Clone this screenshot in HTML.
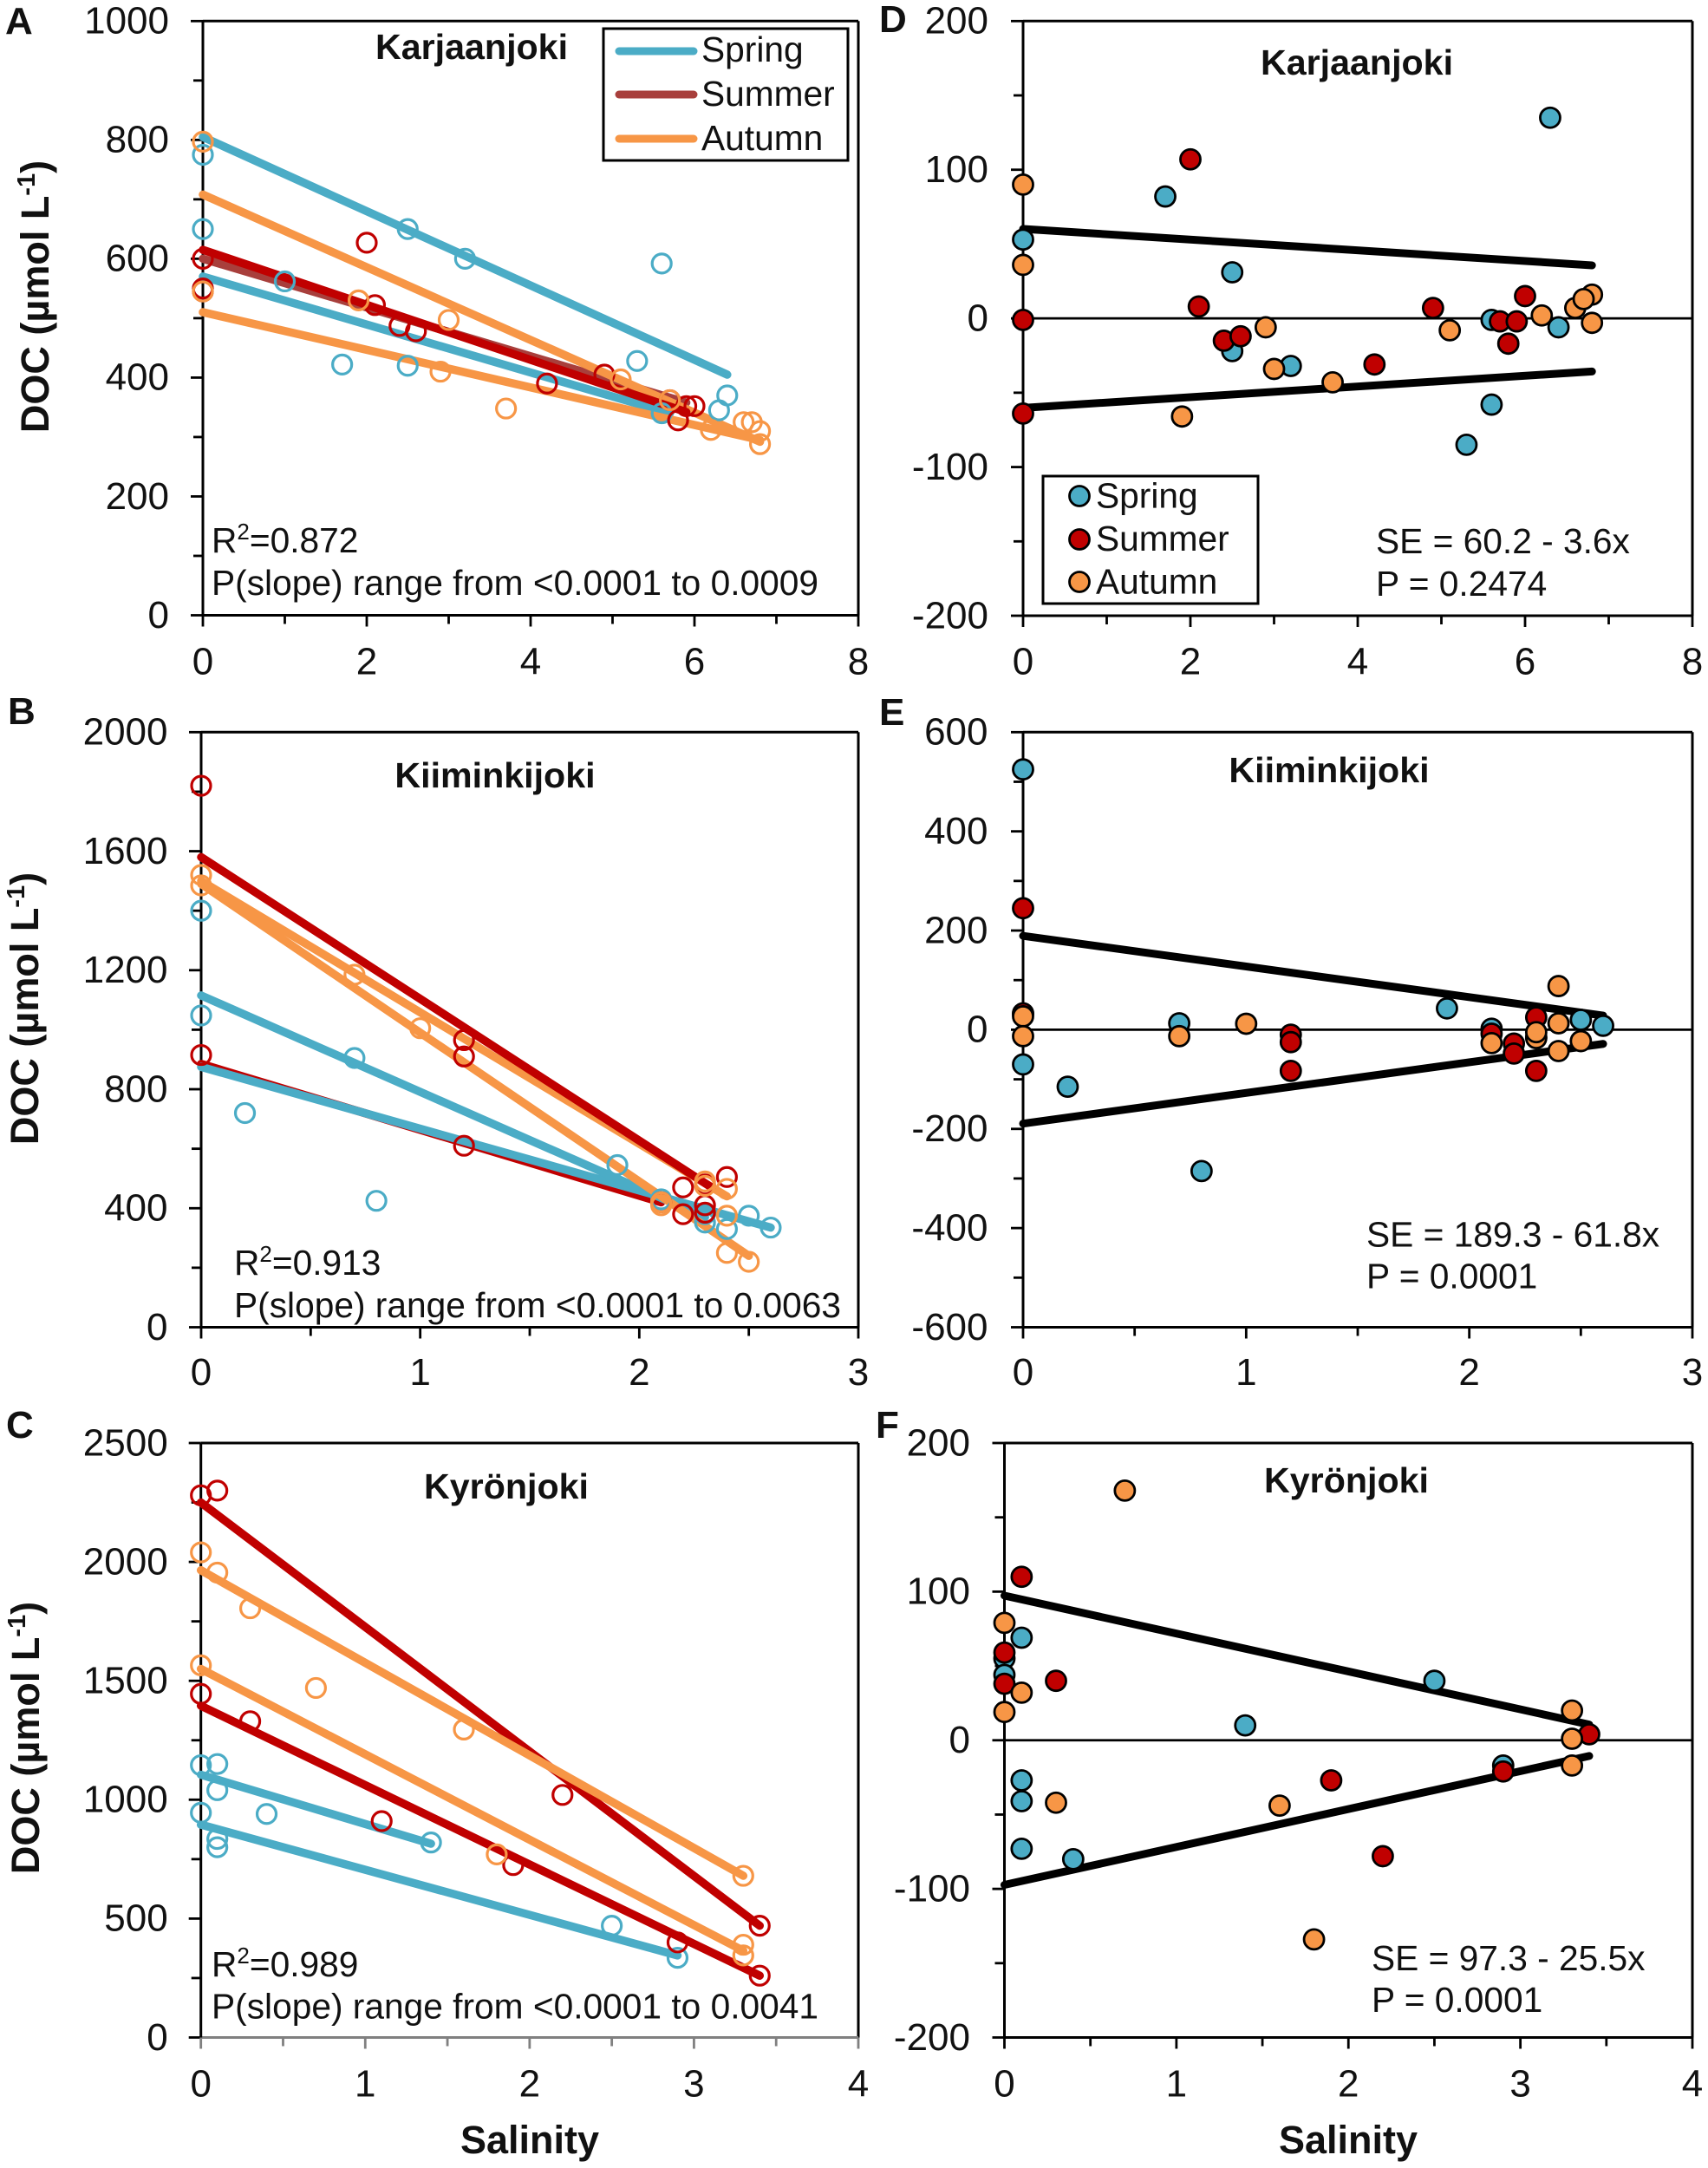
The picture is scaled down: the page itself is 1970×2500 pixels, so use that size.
<!DOCTYPE html>
<html lang="en">
<head>
<meta charset="utf-8">
<title>DOC versus salinity in three Finnish rivers</title>
<style>
html,body{margin:0;padding:0;background:#fff;}
svg{display:block;}
text{font-family:"Liberation Sans",sans-serif;fill:#111;}
.tick{font-size:44px;}
.note{font-size:40.7px;}
.title{font-size:41.2px;font-weight:bold;}
.axis-title{font-size:45px;font-weight:bold;}
.letter{font-size:44px;font-weight:bold;}
</style>
</head>
<body>
<svg id="figure" xmlns="http://www.w3.org/2000/svg" width="1970" height="2500" viewBox="0 0 1970 2500">
  <rect x="0" y="0" width="1970" height="2500" fill="#fff"/>
  <g id="plots"></g>

  <text class="letter" x="6" y="39">A</text>
  <text class="letter" x="9" y="835">B</text>
  <text class="letter" x="7" y="1658">C</text>
  <text class="letter" x="1014" y="37">D</text>
  <text class="letter" x="1014" y="836">E</text>
  <text class="letter" x="1010" y="1658">F</text>

  <text class="title" x="544" y="68" text-anchor="middle">Karjaanjoki</text>
  <text class="title" x="1565" y="86" text-anchor="middle">Karjaanjoki</text>
  <text class="title" x="571" y="908" text-anchor="middle">Kiiminkijoki</text>
  <text class="title" x="1533" y="902" text-anchor="middle">Kiiminkijoki</text>
  <text class="title" x="584" y="1728" text-anchor="middle">Kyrönjoki</text>
  <text class="title" x="1553" y="1721" text-anchor="middle">Kyrönjoki</text>

  <text class="axis-title" transform="translate(56 342) rotate(-90)" text-anchor="middle">DOC (µmol L<tspan dy="-16" font-size="29">-1</tspan><tspan dy="16">)</tspan></text>
  <text class="axis-title" transform="translate(44 1163) rotate(-90)" text-anchor="middle">DOC (µmol L<tspan dy="-16" font-size="29">-1</tspan><tspan dy="16">)</tspan></text>
  <text class="axis-title" transform="translate(45 2004) rotate(-90)" text-anchor="middle">DOC (µmol L<tspan dy="-16" font-size="29">-1</tspan><tspan dy="16">)</tspan></text>
  <text class="axis-title" x="611" y="2483" text-anchor="middle">Salinity</text>
  <text class="axis-title" x="1555" y="2483" text-anchor="middle">Salinity</text>

  <text class="note" x="244" y="637">R<tspan dy="-15" font-size="26">2</tspan><tspan dy="15">=0.872</tspan></text>
  <text class="note" x="244" y="686">P(slope) range from &lt;0.0001 to 0.0009</text>
  <text class="note" x="270" y="1470">R<tspan dy="-15" font-size="26">2</tspan><tspan dy="15">=0.913</tspan></text>
  <text class="note" x="270" y="1519">P(slope) range from &lt;0.0001 to 0.0063</text>
  <text class="note" x="244" y="2279">R<tspan dy="-15" font-size="26">2</tspan><tspan dy="15">=0.989</tspan></text>
  <text class="note" x="244" y="2327.5">P(slope) range from &lt;0.0001 to 0.0041</text>
  <text class="note" x="1587" y="638">SE = 60.2 - 3.6x</text>
  <text class="note" x="1587" y="687">P = 0.2474</text>
  <text class="note" x="1576" y="1437.5">SE = 189.3 - 61.8x</text>
  <text class="note" x="1576" y="1485.5">P = 0.0001</text>
  <text class="note" x="1582" y="2272">SE = 97.3 - 25.5x</text>
  <text class="note" x="1582" y="2320">P = 0.0001</text>

  <g>
    <rect x="696" y="33" width="282" height="152" fill="#fff" stroke="#000" stroke-width="3"/>
    <line x1="714" y1="59" x2="800" y2="59" stroke="#4bacc6" stroke-width="9" stroke-linecap="round"/>
    <line x1="714" y1="109" x2="800" y2="109" stroke="#a83f3c" stroke-width="9" stroke-linecap="round"/>
    <line x1="714" y1="160" x2="800" y2="160" stroke="#f79646" stroke-width="9" stroke-linecap="round"/>
    <text class="note" x="809" y="71">Spring</text>
    <text class="note" x="809" y="122">Summer</text>
    <text class="note" x="809" y="173">Autumn</text>
  </g>
  <g>
    <rect x="1203" y="549" width="248" height="147" fill="#fff" stroke="#000" stroke-width="3"/>
    <circle cx="1245" cy="572" r="11.5" fill="#4bacc6" stroke="#000" stroke-width="2.8"/>
    <circle cx="1245" cy="622" r="11.5" fill="#c00000" stroke="#000" stroke-width="2.8"/>
    <circle cx="1245" cy="671" r="11.5" fill="#f79646" stroke="#000" stroke-width="2.8"/>
    <text class="note" x="1264" y="585.5">Spring</text>
    <text class="note" x="1264" y="635">Summer</text>
    <text class="note" x="1264" y="684.5">Autumn</text>
  </g>
</svg>

<script>
// ---------- Panel A: Karjaanjoki DOC ----------
const aXTicks = [0,1,2,3,4,5,6,7,8];
const aXLabels = [0,2,4,6,8];
const aYTicks = [0,100,200,300,400,500,600,700,800,900,1000];
const aYLabels = [0,200,400,600,800,1000];
const aSpringSalinity = [0,0,0,1,1.7,2.5,2.5,3.2,5.3,5.6,5.6,6.3,6.4];
const aSpringDoc = [775,650,550,562,422,650,420,600,428,592,340,345,370];
const aSummerSalinity = [0,0,0,2,2.1,2.4,2.6,4.2,4.9,5.7,5.8,5.9,6];
const aSummerDoc = [600,550,545,627,522,487,478,390,405,362,328,352,352];
const aAutumnSalinity = [0,0,1.9,2.9,3,3.7,5.1,6.2,6.6,6.7,6.8,6.8,5.7];
const aAutumnDoc = [797,545,530,410,497,348,397,312,325,325,310,288,362];
const aFitSeason = ['spring','spring','brown','autumn','autumn','summer'];
const aFitStartSalinity = [0,0,0,0,0,0];
const aFitStartDoc = [805,570,600,708,510,615];
const aFitEndSalinity = [6.4,5.7,5.9,6.8,6.8,5.9];
const aFitEndDoc = [405,340,358,292,295,342];

// ---------- Panel B: Kiiminkijoki DOC ----------
const bXTicks = [0,0.5,1,1.5,2,2.5,3];
const bXLabels = [0,1,2,3];
const bYTicks = [0,200,400,600,800,1000,1200,1400,1600,1800,2000];
const bYLabels = [0,400,800,1200,1600,2000];
const bSpringSalinity = [0,0,0.2,0.7,0.8,1.9,2.1,2.3,2.3,2.4,2.5,2.6];
const bSpringDoc = [1400,1048,720,905,425,545,430,352,380,330,375,335];
const bSummerSalinity = [0,0,1.2,1.2,1.2,2.1,2.2,2.2,2.3,2.3,2.3,2.4];
const bSummerDoc = [1820,915,965,910,610,420,470,380,480,410,385,505];
const bAutumnSalinity = [0,0,0.7,1,2.1,2.1,2.3,2.3,2.4,2.4,2.4,2.5];
const bAutumnDoc = [1520,1485,1185,1005,420,410,490,475,465,375,250,220];
const bFitSeason = ['summer','spring','spring','autumn','autumn','summer'];
const bFitStartSalinity = [0,0,0,0,0,0];
const bFitStartDoc = [885,875,1115,1500,1490,1580];
const bFitEndSalinity = [2.1,2.6,2.3,2.4,2.5,2.33];
const bFitEndDoc = [420,335,370,440,240,470];

// ---------- Panel C: Kyronjoki DOC ----------
const cXTicks = [0,0.5,1,1.5,2,2.5,3,3.5,4];
const cXLabels = [0,1,2,3,4];
const cYTicks = [0,250,500,750,1000,1250,1500,1750,2000,2250,2500];
const cYLabels = [0,500,1000,1500,2000,2500];
const cSpringSalinity = [0,0,0.1,0.1,0.1,0.1,0.4,1.4,2.5,2.9];
const cSpringDoc = [1145,945,1150,1040,835,800,940,820,470,335];
const cSummerSalinity = [0,0,0.1,0.3,1.1,1.9,2.2,2.9,3.4,3.4];
const cSummerDoc = [2280,1445,2300,1330,910,725,1020,400,470,260];
const cAutumnSalinity = [0,0,0.1,0.3,0.7,1.6,1.8,3.3,3.3,3.3];
const cAutumnDoc = [2040,1565,1955,1805,1470,1295,770,680,390,345];
const cFitSeason = ['spring','spring','summer','autumn','autumn','summer'];
const cFitStartSalinity = [0,0,0,0,0,0];
const cFitStartDoc = [1105,895,2250,1965,1550,1395];
const cFitEndSalinity = [1.4,2.9,3.4,3.3,3.3,3.4];
const cFitEndDoc = [815,345,470,680,365,260];

// ---------- Panel D: Karjaanjoki residuals ----------
const dXTicks = [0,1,2,3,4,5,6,7,8];
const dXLabels = [0,2,4,6,8];
const dYTicks = [-200,-150,-100,-50,0,50,100,150,200];
const dYLabels = [-200,-100,0,100,200];
const dSpringSalinity = [0,1.7,2.5,2.5,3.2,5.3,5.6,5.6,6.3,6.4];
const dSpringResidual = [53,82,31,-22,-32,-85,-58,-1,135,-6];
const dSummerSalinity = [0,0,2,2.1,2.4,2.6,4.2,4.9,5.7,5.8,5.9,6];
const dSummerResidual = [-1,-64,107,8,-15,-12,-31,7,-2,-17,-2,15];
const dAutumnSalinity = [0,0,1.9,2.9,3,3.7,5.1,6.2,6.6,6.8,6.7,6.8];
const dAutumnResidual = [90,36,-66,-6,-34,-43,-8,2,7,16,13,-3];
const dBandSalinity = [0,6.8];
const dBandUpper = [60.2,35.7];
const dBandLower = [-60.2,-35.7];

// ---------- Panel E: Kiiminkijoki residuals ----------
const eXTicks = [0,0.5,1,1.5,2,2.5,3];
const eXLabels = [0,1,2,3];
const eYTicks = [-600,-500,-400,-300,-200,-100,0,100,200,300,400,500,600];
const eYLabels = [-600,-400,-200,0,200,400,600];
const eSpringSalinity = [0,0,0,0.2,0.7,0.8,1.9,2.1,2.3,2.5,2.6];
const eSpringResidual = [525,32,-70,-115,13,-285,43,2,-15,20,8];
const eSummerSalinity = [0,0,1.2,1.2,1.2,2.1,2.2,2.2,2.3,2.3];
const eSummerResidual = [245,33,-10,-25,-83,-8,-28,-48,25,-83];
const eAutumnSalinity = [0,0,0.7,1,2.1,2.3,2.3,2.4,2.4,2.4,2.5];
const eAutumnResidual = [27,-13,-13,12,-27,-17,-5,88,13,-43,-23];
const eBandSalinity = [0,2.6];
const eBandUpper = [189.3,28.6];
const eBandLower = [-189.3,-28.6];

// ---------- Panel F: Kyronjoki residuals ----------
const fXTicks = [0,0.5,1,1.5,2,2.5,3,3.5,4];
const fXLabels = [0,1,2,3,4];
const fYTicks = [-200,-150,-100,-50,0,50,100,150,200];
const fYLabels = [-200,-100,0,100,200];
const fSpringSalinity = [0,0,0.1,0.1,0.1,0.1,0.4,1.4,2.5,2.9];
const fSpringResidual = [55,44,69,-27,-41,-73,-80,10,40,-17];
const fSummerSalinity = [0,0,0.1,0.3,1.9,2.2,2.9,3.4];
const fSummerResidual = [59,38,110,40,-27,-78,-21,4];
const fAutumnSalinity = [0,0,0.1,0.3,0.7,1.6,1.8,3.3,3.3,3.3];
const fAutumnResidual = [79,19,32,-42,168,-44,-134,20,1,-17];
const fBandSalinity = [0,3.4];
const fBandUpper = [97.3,10.6];
const fBandLower = [-97.3,-10.6];

const SVG_NS = 'http://www.w3.org/2000/svg';
const plots = document.getElementById('plots');
const seasonColor = {spring:'#4bacc6', summer:'#c00000', autumn:'#f79646', brown:'#a83f3c'};

function makeLine(parent, name, x1, y1, x2, y2, color, width, cap) {
  const el = document.createElementNS(SVG_NS, 'line');
  
  
  el.setAttribute('x1', x1);
  el.setAttribute('y1', y1);
  el.setAttribute('x2', x2);
  el.setAttribute('y2', y2);
  el.setAttribute('stroke', color);
  el.setAttribute('stroke-width', width);
  if (cap) el.setAttribute('stroke-linecap', cap);
  parent.appendChild(el);
  return el;
}

function makeLabel(parent, name, x, y, anchor, str) {
  const el = document.createElementNS(SVG_NS, 'text');
  
  
  el.setAttribute('class', 'tick');
  el.setAttribute('x', x);
  el.setAttribute('y', y);
  el.setAttribute('text-anchor', anchor);
  el.textContent = str;
  parent.appendChild(el);
  return el;
}

function makeGroup(parent, name) {
  const el = document.createElementNS(SVG_NS, 'g');
  
  
  parent.appendChild(el);
  return el;
}

function drawAxes(p) {
  const g = makeGroup(plots, p.id + '-axes');
  p.yTicks.forEach(function (v) {
    const len = p.yLabels.indexOf(v) >= 0 ? 14 : 11;
    makeLine(g, p.id + '-y-tick', p.left - len, p.y(v), p.left, p.y(v), '#000', 2.8);
  });
  p.xTicks.forEach(function (v) {
    const len = p.xLabels.indexOf(v) >= 0 ? 13 : 10;
    makeLine(g, p.id + '-x-tick', p.x(v), p.bottom, p.x(v), p.bottom + len, p.bottomColor, 2.8);
  });
  p.yLabels.forEach(function (v) {
    makeLabel(g, p.id + '-y-tick-label', p.labelRight, p.y(v) + 14.3, 'end', String(v));
  });
  p.xLabels.forEach(function (v) {
    makeLabel(g, p.id + '-x-tick-label', p.x(v), p.xLabelBase, 'middle', String(v));
  });
  makeLine(g, p.id + '-top-border', p.left, p.top, p.right, p.top, '#000', 3);
  makeLine(g, p.id + '-right-border', p.right, p.top, p.right, p.bottom, '#000', 3);
  makeLine(g, p.id + '-x-axis', p.left, p.bottom, p.right, p.bottom, p.bottomColor, 3);
  makeLine(g, p.id + '-y-axis', p.left, p.top, p.left, p.bottom, '#000', 3);
  if (p.zeroLine) makeLine(g, p.id + '-zero-line', p.left, p.y(0), p.right, p.y(0), '#000', 2.8);
}

function drawPoints(parent, p, season, xs, ys, filled) {
  const g = makeGroup(parent, p.id + '-' + season + '-points');
  xs.forEach(function (sal, i) {
    const el = document.createElementNS(SVG_NS, 'circle');
    
    
    el.setAttribute('cx', p.x(sal));
    el.setAttribute('cy', p.y(ys[i]));
    if (filled) {
      el.setAttribute('r', 11.5);
      el.setAttribute('fill', seasonColor[season]);
      el.setAttribute('stroke', '#000');
      el.setAttribute('stroke-width', 2.8);
    } else {
      el.setAttribute('r', 11);
      el.setAttribute('fill', 'none');
      el.setAttribute('stroke', seasonColor[season]);
      el.setAttribute('stroke-width', 3.2);
    }
    g.appendChild(el);
  });
}

function makePanel(id, left, right, top, bottom, xMax, yMin, yMax, labelRight, xLabelBase, zeroLine, bottomColor, xTicks, xLabels, yTicks, yLabels) {
  return {
    id: id, left: left, right: right, top: top, bottom: bottom,
    labelRight: labelRight, xLabelBase: xLabelBase, zeroLine: zeroLine, bottomColor: bottomColor,
    xTicks: xTicks, xLabels: xLabels, yTicks: yTicks, yLabels: yLabels,
    x: function (v) { return left + (v / xMax) * (right - left); },
    y: function (v) { return bottom - ((v - yMin) / (yMax - yMin)) * (bottom - top); }
  };
}

function drawDocPanel(p, fitSeason, fx0, fy0, fx1, fy1, sx, sy, ux, uy, ax, ay) {
  drawAxes(p);
  const fits = makeGroup(plots, p.id + '-regression-lines');
  fitSeason.forEach(function (season, i) {
    makeLine(fits, p.id + '-' + season + '-fit-line', p.x(fx0[i]), p.y(fy0[i]), p.x(fx1[i]), p.y(fy1[i]), seasonColor[season], 9.5, 'round');
  });
  drawPoints(plots, p, 'spring', sx, sy, false);
  drawPoints(plots, p, 'summer', ux, uy, false);
  drawPoints(plots, p, 'autumn', ax, ay, false);
}

function drawResidualPanel(p, bandX, upper, lower, sx, sy, ux, uy, ax, ay) {
  drawAxes(p);
  const band = makeGroup(plots, p.id + '-standard-error-band');
  makeLine(band, p.id + '-upper-se-line', p.x(bandX[0]), p.y(upper[0]), p.x(bandX[1]), p.y(upper[1]), '#000', 9, 'round');
  makeLine(band, p.id + '-lower-se-line', p.x(bandX[0]), p.y(lower[0]), p.x(bandX[1]), p.y(lower[1]), '#000', 9, 'round');
  drawPoints(plots, p, 'spring', sx, sy, true);
  drawPoints(plots, p, 'summer', ux, uy, true);
  drawPoints(plots, p, 'autumn', ax, ay, true);
}

const panelA = makePanel('panel-a', 234, 990, 24.3, 709.5, 8, 0, 1000, 195, 777.5, false, '#000', aXTicks, aXLabels, aYTicks, aYLabels);
const panelB = makePanel('panel-b', 232, 990, 844.3, 1530.5, 3, 0, 2000, 193.5, 1597, false, '#000', bXTicks, bXLabels, bYTicks, bYLabels);
const panelC = makePanel('panel-c', 231.7, 990, 1664, 2349.5, 4, 0, 2500, 193.7, 2417.5, false, '#808080', cXTicks, cXLabels, cYTicks, cYLabels);
const panelD = makePanel('panel-d', 1180, 1952, 24.3, 710, 8, -200, 200, 1140, 777.5, true, '#000', dXTicks, dXLabels, dYTicks, dYLabels);
const panelE = makePanel('panel-e', 1180, 1952, 844.3, 1530.5, 3, -600, 600, 1139.5, 1597, true, '#000', eXTicks, eXLabels, eYTicks, eYLabels);
const panelF = makePanel('panel-f', 1158.5, 1952, 1664, 2349.5, 4, -200, 200, 1119, 2417.5, true, '#000', fXTicks, fXLabels, fYTicks, fYLabels);

drawDocPanel(panelA, aFitSeason, aFitStartSalinity, aFitStartDoc, aFitEndSalinity, aFitEndDoc, aSpringSalinity, aSpringDoc, aSummerSalinity, aSummerDoc, aAutumnSalinity, aAutumnDoc);
drawDocPanel(panelB, bFitSeason, bFitStartSalinity, bFitStartDoc, bFitEndSalinity, bFitEndDoc, bSpringSalinity, bSpringDoc, bSummerSalinity, bSummerDoc, bAutumnSalinity, bAutumnDoc);
drawDocPanel(panelC, cFitSeason, cFitStartSalinity, cFitStartDoc, cFitEndSalinity, cFitEndDoc, cSpringSalinity, cSpringDoc, cSummerSalinity, cSummerDoc, cAutumnSalinity, cAutumnDoc);
drawResidualPanel(panelD, dBandSalinity, dBandUpper, dBandLower, dSpringSalinity, dSpringResidual, dSummerSalinity, dSummerResidual, dAutumnSalinity, dAutumnResidual);
drawResidualPanel(panelE, eBandSalinity, eBandUpper, eBandLower, eSpringSalinity, eSpringResidual, eSummerSalinity, eSummerResidual, eAutumnSalinity, eAutumnResidual);
drawResidualPanel(panelF, fBandSalinity, fBandUpper, fBandLower, fSpringSalinity, fSpringResidual, fSummerSalinity, fSummerResidual, fAutumnSalinity, fAutumnResidual);
</script>
</body>
</html>
